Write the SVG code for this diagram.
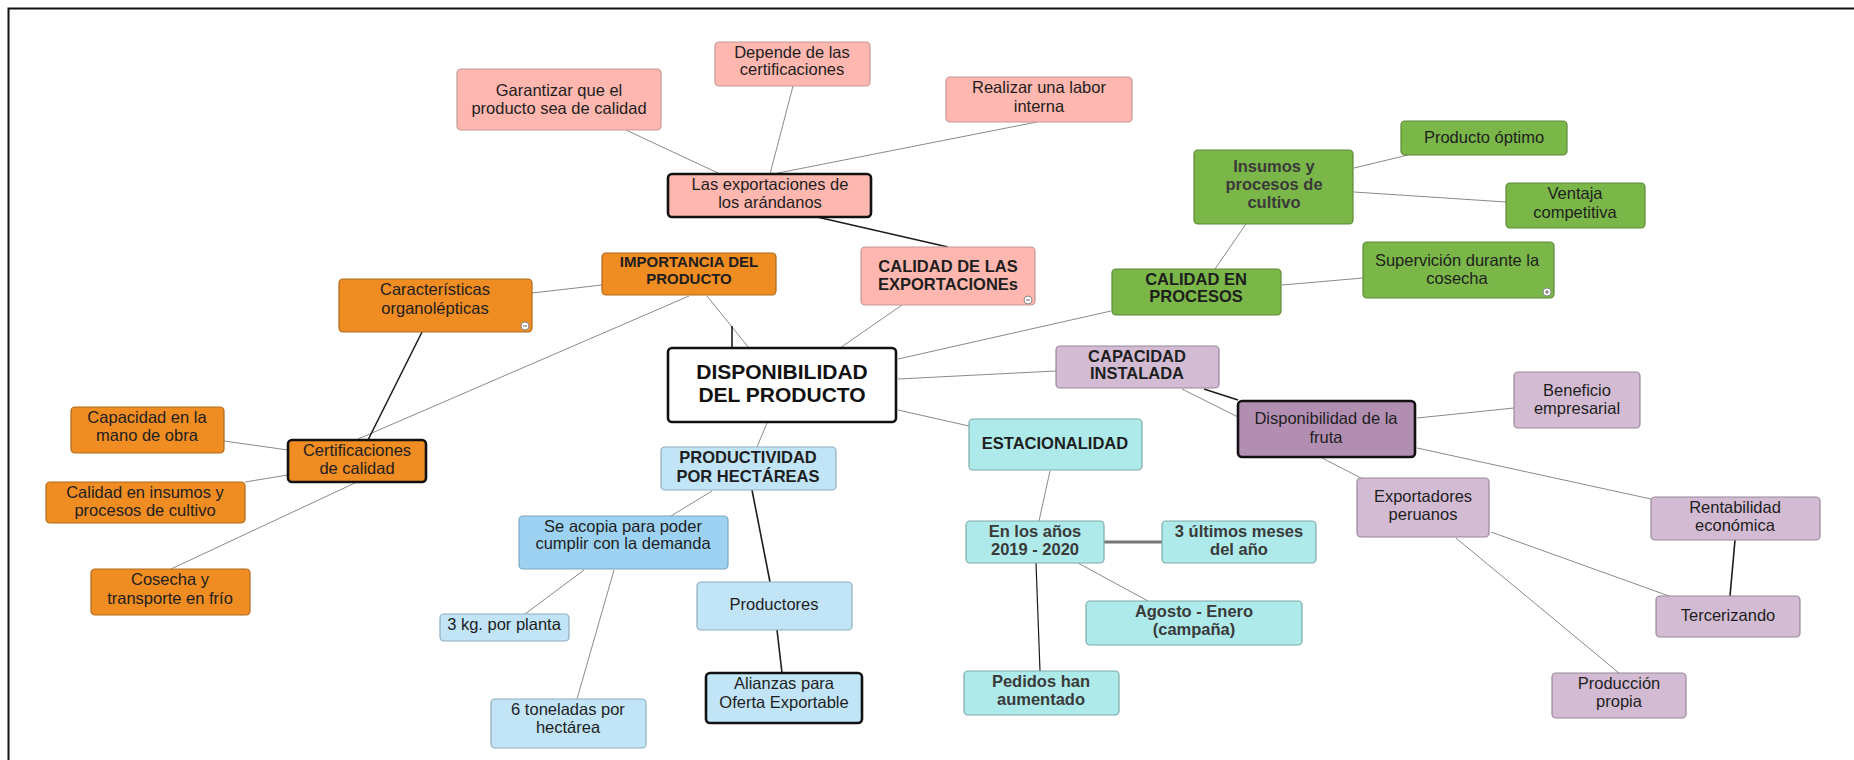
<svg xmlns="http://www.w3.org/2000/svg" width="1854" height="760" viewBox="0 0 1854 760">
  <style>
    text { font-family: "Liberation Sans", Arial, sans-serif; font-size: 16.5px; fill: #1e1e1e; text-anchor: middle; }
    .b { font-weight: bold; }
    .hd { font-weight: bold; font-size: 15px; }
    .main { font-weight: bold; font-size: 21px; fill: #111; }
    .dg { fill: #3a3a3a; font-weight: bold; }
    rect { rx: 4; ry: 4; stroke-width: 1.2; }
    .pink rect { fill: #ffb7af; stroke: #c39a95; }
    .orange rect { fill: #ef8c22; stroke: #b06a1e; }
    .green rect { fill: #7ab648; stroke: #5b8a38; }
    .blue rect { fill: #c1e4f7; stroke: #8fadbf; }
    .blue2 rect { fill: #9dd2f3; stroke: #7ea6be; }
    .teal rect { fill: #aeeaea; stroke: #7fa9a9; }
    .lilac rect { fill: #d3bcd3; stroke: #988898; }
    .plum rect { fill: #b28fb2; }
    .white rect { fill: #ffffff; }
    .thick rect { stroke: #111; stroke-width: 2.6; }
    .links path { fill: none; stroke: #8a8a8a; stroke-width: 1; }
    .links path.dark { stroke: #1c1c1c; stroke-width: 1.6; }
    .links path.heavy { stroke: #777; stroke-width: 3; }
    .ico circle { fill: #fff; stroke: #888; stroke-width: 1; }
    .ico path { stroke: #666; stroke-width: 1; }
  </style>

  <!-- frame -->
  <path d="M8.5 760 V8.5 H1854" fill="none" stroke="#111" stroke-width="2"/>

  <!-- connectors -->
  <g id="connectors" class="links">
    <path d="M626 130 L720 174"/>
    <path d="M793 86 L770 174"/>
    <path d="M1037 122 L773 174"/>
    <path class="dark" d="M817 217 L948 247"/>
    <path d="M902 305 L840 348"/>
    <path d="M707 296 L749 348"/>
    <path class="dark" d="M732 326 L732 348"/>
    <path d="M532 293 L602 285"/>
    <path d="M689 296 L358 439"/>
    <path class="dark" d="M422 332 L368 440"/>
    <path d="M898 359 L1111 311"/>
    <path d="M898 379 L1056 371"/>
    <path d="M898 410 L969 426"/>
    <path d="M767 423 L757 447"/>
    <path d="M1215 269 L1246 224"/>
    <path d="M1282 285 L1363 278"/>
    <path d="M1354 168 L1408 155"/>
    <path d="M1354 192 L1506 202"/>
    <path class="dark" d="M1204 389 L1238 400"/>
    <path d="M1182 389 L1238 417"/>
    <path d="M1417 418 L1514 408"/>
    <path d="M1417 448 L1651 499"/>
    <path d="M1322 458 L1361 478"/>
    <path d="M1491 532 L1669 596"/>
    <path d="M1456 538 L1619 673"/>
    <path class="dark" d="M1735 540 L1730 596"/>
    <path d="M1050 471 L1039 521"/>
    <path class="heavy" d="M1104 542 L1162 542"/>
    <path d="M1078 563 L1148 601"/>
    <path class="dark" d="M1036 563 L1040 671" style="stroke-width:1.2"/>
    <path d="M712 491 L671 516"/>
    <path class="dark" d="M752 490 L770 582"/>
    <path class="dark" d="M777 630 L782 673"/>
    <path d="M614 570 L577 699"/>
    <path d="M584 570 L525 614"/>
    <path d="M288 450 L224 441"/>
    <path d="M288 475 L245 482"/>
    <path d="M357 482 L171 569"/>
  </g>

  <!-- pink branch -->
  <g id="garantizar" class="pink">
    <rect x="457" y="69" width="204" height="61"/>
    <text x="559" y="96">Garantizar que el</text>
    <text x="559" y="114">producto sea de calidad</text>
  </g>
  <g id="depende" class="pink">
    <rect x="715" y="42" width="155" height="44"/>
    <text x="792" y="58">Depende de las</text>
    <text x="792" y="75">certificaciones</text>
  </g>
  <g id="realizar" class="pink">
    <rect x="946" y="77" width="186" height="45"/>
    <text x="1039" y="93">Realizar una labor</text>
    <text x="1039" y="112">interna</text>
  </g>
  <g id="exportaciones" class="pink thick">
    <rect x="668" y="174" width="203" height="43"/>
    <text x="770" y="190">Las exportaciones de</text>
    <text x="770" y="208">los arándanos</text>
  </g>
  <g id="calidad-exportaciones" class="pink">
    <rect x="861" y="247" width="174" height="58"/>
    <text class="b" x="948" y="272">CALIDAD DE LAS</text>
    <text class="b" x="948" y="290">EXPORTACIONEs</text>
    <g class="ico"><circle cx="1028" cy="300" r="4"/><path d="M1026 300 H1030"/></g>
  </g>

  <!-- orange branch -->
  <g id="importancia" class="orange">
    <rect x="602" y="253" width="174" height="42"/>
    <text class="hd" x="689" y="267">IMPORTANCIA DEL</text>
    <text class="hd" x="689" y="284">PRODUCTO</text>
  </g>
  <g id="caracteristicas" class="orange">
    <rect x="339" y="279" width="193" height="53"/>
    <text x="435" y="295">Características</text>
    <text x="435" y="314">organolépticas</text>
    <g class="ico"><circle cx="525" cy="326" r="4"/><path d="M523 326 H527"/></g>
  </g>
  <g id="certificaciones" class="orange thick">
    <rect x="288" y="440" width="138" height="42"/>
    <text x="357" y="456">Certificaciones</text>
    <text x="357" y="474">de calidad</text>
  </g>
  <g id="mano-de-obra" class="orange">
    <rect x="71" y="407" width="153" height="46"/>
    <text x="147" y="423">Capacidad en la</text>
    <text x="147" y="441">mano de obra</text>
  </g>
  <g id="calidad-insumos" class="orange">
    <rect x="46" y="482" width="199" height="41"/>
    <text x="145" y="498">Calidad en insumos y</text>
    <text x="145" y="516">procesos de cultivo</text>
  </g>
  <g id="cosecha" class="orange">
    <rect x="91" y="569" width="159" height="46"/>
    <text x="170" y="585">Cosecha y</text>
    <text x="170" y="604">transporte en frío</text>
  </g>

  <!-- centre -->
  <g id="disponibilidad" class="white thick">
    <rect x="668" y="348" width="228" height="74"/>
    <text class="main" x="782" y="379">DISPONIBILIDAD</text>
    <text class="main" x="782" y="402">DEL PRODUCTO</text>
  </g>

  <!-- green branch -->
  <g id="calidad-procesos" class="green">
    <rect x="1112" y="269" width="169" height="46"/>
    <text class="b" x="1196" y="285">CALIDAD EN</text>
    <text class="b" x="1196" y="302">PROCESOS</text>
  </g>
  <g id="insumos" class="green">
    <rect x="1194" y="150" width="159" height="74"/>
    <text class="dg" x="1274" y="172">Insumos y</text>
    <text class="dg" x="1274" y="190">procesos de</text>
    <text class="dg" x="1274" y="208">cultivo</text>
  </g>
  <g id="producto-optimo" class="green">
    <rect x="1401" y="121" width="166" height="34"/>
    <text x="1484" y="143">Producto óptimo</text>
  </g>
  <g id="ventaja" class="green">
    <rect x="1506" y="183" width="139" height="45"/>
    <text x="1575" y="199">Ventaja</text>
    <text x="1575" y="218">competitiva</text>
  </g>
  <g id="supervicion" class="green">
    <rect x="1363" y="242" width="191" height="56"/>
    <text x="1457" y="266">Supervición durante la</text>
    <text x="1457" y="284">cosecha</text>
    <g class="ico"><circle cx="1547" cy="292" r="4"/><path d="M1545 292 H1549 M1547 290 V294"/></g>
  </g>

  <!-- purple branch -->
  <g id="capacidad" class="lilac">
    <rect x="1056" y="346" width="163" height="42"/>
    <text class="b" x="1137" y="362">CAPACIDAD</text>
    <text class="b" x="1137" y="379">INSTALADA</text>
  </g>
  <g id="fruta" class="plum thick">
    <rect x="1238" y="401" width="177" height="56"/>
    <text x="1326" y="424">Disponibilidad de la</text>
    <text x="1326" y="443">fruta</text>
  </g>
  <g id="beneficio" class="lilac">
    <rect x="1514" y="372" width="126" height="56"/>
    <text x="1577" y="396">Beneficio</text>
    <text x="1577" y="414">empresarial</text>
  </g>
  <g id="exportadores" class="lilac">
    <rect x="1357" y="478" width="132" height="59"/>
    <text x="1423" y="502">Exportadores</text>
    <text x="1423" y="520">peruanos</text>
  </g>
  <g id="rentabilidad" class="lilac">
    <rect x="1651" y="497" width="169" height="43"/>
    <text x="1735" y="513">Rentabilidad</text>
    <text x="1735" y="531">económica</text>
  </g>
  <g id="tercerizando" class="lilac">
    <rect x="1656" y="596" width="144" height="41"/>
    <text x="1728" y="621">Tercerizando</text>
  </g>
  <g id="produccion" class="lilac">
    <rect x="1552" y="673" width="134" height="45"/>
    <text x="1619" y="689">Producción</text>
    <text x="1619" y="707">propia</text>
  </g>

  <!-- teal branch -->
  <g id="estacionalidad" class="teal">
    <rect x="969" y="419" width="173" height="51"/>
    <text class="b" x="1055" y="449">ESTACIONALIDAD</text>
  </g>
  <g id="anios" class="teal">
    <rect x="966" y="521" width="138" height="42"/>
    <text class="dg" x="1035" y="537">En los años</text>
    <text class="dg" x="1035" y="555">2019 - 2020</text>
  </g>
  <g id="ultimos-meses" class="teal">
    <rect x="1162" y="521" width="154" height="42"/>
    <text class="dg" x="1239" y="537">3 últimos meses</text>
    <text class="dg" x="1239" y="555">del año</text>
  </g>
  <g id="agosto-enero" class="teal">
    <rect x="1086" y="601" width="216" height="44"/>
    <text class="dg" x="1194" y="617">Agosto - Enero</text>
    <text class="dg" x="1194" y="635">(campaña)</text>
  </g>
  <g id="pedidos" class="teal">
    <rect x="964" y="671" width="155" height="44"/>
    <text class="dg" x="1041" y="687">Pedidos han</text>
    <text class="dg" x="1041" y="705">aumentado</text>
  </g>

  <!-- blue branch -->
  <g id="productividad" class="blue">
    <rect x="661" y="447" width="175" height="43"/>
    <text class="b" x="748" y="463">PRODUCTIVIDAD</text>
    <text class="b" x="748" y="482">POR HECTÁREAS</text>
  </g>
  <g id="acopia" class="blue2">
    <rect x="519" y="516" width="209" height="53"/>
    <text x="623" y="532">Se acopia para poder</text>
    <text x="623" y="549">cumplir con la demanda</text>
  </g>
  <g id="productores" class="blue">
    <rect x="697" y="582" width="155" height="48"/>
    <text x="774" y="610">Productores</text>
  </g>
  <g id="alianzas" class="blue thick">
    <rect x="706" y="673" width="156" height="50"/>
    <text x="784" y="689">Alianzas para</text>
    <text x="784" y="708">Oferta Exportable</text>
  </g>
  <g id="kg-planta" class="blue">
    <rect x="440" y="614" width="129" height="27"/>
    <text x="504" y="630">3 kg. por planta</text>
  </g>
  <g id="toneladas" class="blue">
    <rect x="491" y="699" width="155" height="49"/>
    <text x="568" y="715">6 toneladas por</text>
    <text x="568" y="733">hectárea</text>
  </g>
</svg>
